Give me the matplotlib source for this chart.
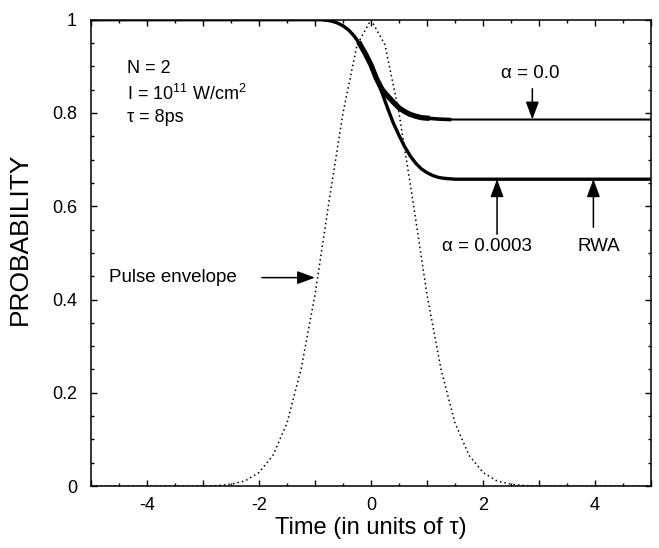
import matplotlib
matplotlib.use('Agg')
import matplotlib.pyplot as plt
from matplotlib.ticker import MultipleLocator, FuncFormatter

plt.rcParams['font.family'] = ['Liberation Sans', 'DejaVu Sans']
plt.rcParams['mathtext.fontset'] = 'custom'
plt.rcParams['mathtext.rm'] = 'Liberation Sans'
plt.rcParams['mathtext.default'] = 'regular'

# pulse envelope (dotted)
pulse_t = [-5.0, -3.0, -2.75, -2.5, -2.25, -2.0, -1.75, -1.5, -1.25, -1.0, -0.75, -0.5, -0.25,
           0.0, 0.25, 0.5, 0.75, 1.0, 1.25, 1.5, 1.75, 2.0, 2.25, 2.5, 2.75, 3.0, 5.0]
pulse_p = [0.0, 0.0, 0.001, 0.004, 0.011, 0.029, 0.066, 0.135, 0.25, 0.41, 0.61, 0.80, 0.946,
           1.0, 0.946, 0.80, 0.61, 0.41, 0.25, 0.135, 0.066, 0.029, 0.011, 0.004, 0.001, 0.0, 0.0]

# alpha = 0.0003 and RWA (same curve)
rwa_t = [-5.0, -0.9, -0.8, -0.7, -0.6, -0.5, -0.4, -0.3, -0.2, -0.1, 0.0, 0.1, 0.2, 0.3, 0.4,
         0.5, 0.6, 0.7, 0.8, 0.9, 1.0, 1.1, 1.2, 1.3, 1.5, 5.0]
rwa_p = [1.0, 1.0, 0.999, 0.997, 0.993, 0.987, 0.978, 0.965, 0.948, 0.927, 0.903, 0.873, 0.842,
         0.809, 0.778, 0.752, 0.728, 0.708, 0.692, 0.680, 0.672, 0.666, 0.662, 0.660, 0.658, 0.658]

# alpha = 0.0
a0_t = [-5.0, -0.9, -0.8, -0.7, -0.6, -0.5, -0.4, -0.3, -0.2, -0.1, 0.0, 0.1, 0.2, 0.3, 0.4,
        0.5, 0.6, 0.7, 0.8, 0.9, 1.0, 1.2, 1.4, 5.0]
a0_p = [1.0, 1.0, 0.999, 0.997, 0.993, 0.987, 0.978, 0.965, 0.948, 0.927, 0.903, 0.873, 0.850,
        0.836, 0.823, 0.811, 0.803, 0.797, 0.793, 0.790, 0.789, 0.787, 0.786, 0.786]

fig = plt.figure(figsize=(6.59, 5.48), dpi=100)
ax = fig.add_axes([0.138, 0.113, 0.850, 0.851])

ax.plot(pulse_t, pulse_p, color='black', lw=1.1, ls=(0, (1, 2.0)))
ax.plot(a0_t, a0_p, color='black', lw=1.5)
# noisy (thick) part of the alpha = 0.0 curve
ax.plot(a0_t[8:21], a0_p[8:21], color='black', lw=3.8)
ax.plot(a0_t[20:23], a0_p[20:23], color='black', lw=2.6)
ax.plot(rwa_t, rwa_p, color='black', lw=2.4)

ax.set_xlim(-5, 5)
ax.set_ylim(0, 1)
ax.xaxis.set_major_locator(MultipleLocator(1))
ax.xaxis.set_minor_locator(MultipleLocator(0.5))
ax.xaxis.set_major_formatter(FuncFormatter(lambda v, p: '%d' % v if abs(v) < 4.5 and int(round(v)) % 2 == 0 else ''))
ax.yaxis.set_major_locator(MultipleLocator(0.2))
ax.yaxis.set_minor_locator(MultipleLocator(0.05))
ax.yaxis.set_major_formatter(FuncFormatter(lambda v, p: '%g' % round(v, 1)))
ax.tick_params(which='both', direction='in', top=True, right=True, labelsize=13, width=1.0)
ax.tick_params(which='major', length=4.5)
ax.tick_params(axis='y', which='major', pad=10)
ax.tick_params(axis='x', which='major', pad=8)
ax.tick_params(which='minor', length=2.5)
for s in ax.spines.values():
    s.set_linewidth(1.1)

ax.set_xlabel('Time (in units of τ)', fontsize=17, labelpad=2)
ax.set_ylabel('PROBABILITY', fontsize=19, labelpad=10)
ax.yaxis.set_label_coords(-0.105, 0.53)

ax.text(-4.36, 0.895, 'N = 2', fontsize=13, va='center')
ax.text(-4.36, 0.841, r'I = 10$^{11}$ W/cm$^{2}$', fontsize=13, va='center')
ax.text(-4.36, 0.791, 'τ = 8ps', fontsize=13, va='center')

arrow = dict(arrowstyle='-|>,head_length=1.08,head_width=0.4', color='black', lw=1.1,
             shrinkA=0, shrinkB=0, mutation_scale=10)
ax.text(2.84, 0.884, 'α = 0.0', fontsize=13.5, ha='center', va='center')
ax.annotate('', xy=(2.88, 0.786), xytext=(2.88, 0.852), arrowprops=arrow)
ax.text(2.07, 0.514, 'α = 0.0003', fontsize=13.5, ha='center', va='center')
ax.annotate('', xy=(2.25, 0.658), xytext=(2.25, 0.54), arrowprops=arrow)
ax.text(4.07, 0.514, 'RWA', fontsize=13.5, ha='center', va='center')
ax.annotate('', xy=(3.97, 0.658), xytext=(3.97, 0.555), arrowprops=arrow)
ax.text(-4.68, 0.447, 'Pulse envelope', fontsize=13.5, ha='left', va='center')
ax.annotate('', xy=(-1.0, 0.447), xytext=(-1.95, 0.447), arrowprops=arrow)

fig.savefig('out.png', dpi=100)
